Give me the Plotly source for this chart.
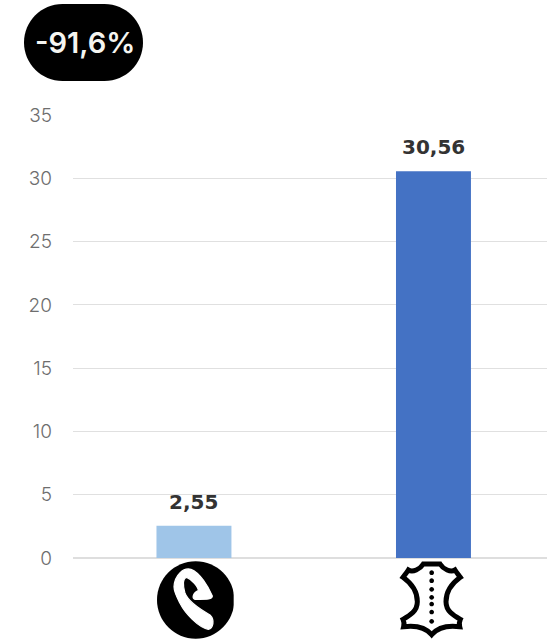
import plotly.graph_objects as go

W, H = 547, 639
categories = ["a", "b"]
values = [2.55, 30.56]
value_labels = ["2,55", "30,56"]
bar_colors = ["#9fc5e8", "#4472c4"]
y_ticks = [0, 5, 10, 15, 20, 25, 30, 35]
badge_text = "-91,6%"


def px(x):
    return x / W


def py(y):
    return 1 - y / H


def zoom_pt(zx, zy):
    """Icon outline points, given in the 3x crop of the region starting at (130,540)."""
    return f"{px(130 + zx / 3):.5f},{py(540 + zy / 3):.5f}"


def path(cmds, close=True):
    s = ""
    for c, pts in cmds:
        s += c + " ".join(zoom_pt(*p) for p in pts) + " "
    return s + ("Z" if close else "")


def bez_circle(cx, cy, r):
    k = 0.5523 * r
    return path([
        ("M", [(cx - r, cy)]),
        ("C", [(cx - r, cy - k), (cx - k, cy - r), (cx, cy - r)]),
        ("C", [(cx + k, cy - r), (cx + r, cy - k), (cx + r, cy)]),
        ("C", [(cx + r, cy + k), (cx + k, cy + r), (cx, cy + r)]),
        ("C", [(cx - k, cy + r), (cx - r, cy + k), (cx - r, cy)]),
    ])


fig = go.Figure(
    go.Bar(
        x=categories,
        y=values,
        marker=dict(color=bar_colors, line=dict(width=0)),
        width=0.313,
        hoverinfo="skip",
    )
)

shapes = []

# badge (pill)
x0, x1, y0, y1, r = 24, 143, 4, 81, 38.5
k = 0.5523 * r
badge = (
    f"M{px(x0 + r)},{py(y0)} L{px(x1 - r)},{py(y0)} "
    f"C{px(x1 - r + k)},{py(y0)} {px(x1)},{py(y0 + r - k)} {px(x1)},{py(y0 + r)} "
    f"C{px(x1)},{py(y1 - r + k)} {px(x1 - r + k)},{py(y1)} {px(x1 - r)},{py(y1)} "
    f"L{px(x0 + r)},{py(y1)} "
    f"C{px(x0 + r - k)},{py(y1)} {px(x0)},{py(y1 - r + k)} {px(x0)},{py(y1 - r)} "
    f"C{px(x0)},{py(y0 + r - k)} {px(x0 + r - k)},{py(y0)} {px(x0 + r)},{py(y0)} Z"
)
shapes.append(dict(type="path", xref="paper", yref="paper", path=badge,
                   fillcolor="#000000", line=dict(width=0), layer="above"))

# handset icon
shapes.append(dict(type="path", xref="paper", yref="paper", path=bez_circle(197, 180, 116),
                   fillcolor="#000000", line=dict(width=0), layer="above"))
shapes.append(dict(type="rect", xref="paper", yref="paper",
                   x0=px(130 + 311 / 3), x1=px(130 + 330 / 3), y0=py(560), y1=py(639),
                   fillcolor="#ffffff", line=dict(width=0), layer="above"))
handset = path([
    ("M", [(132, 140)]),
    ("C", [(134, 105), (160, 82), (183, 88)]),
    ("C", [(210, 98), (235, 140), (247, 168)]),
    ("C", [(247, 178), (235, 178), (195, 178)]),
    ("C", [(185, 175), (188, 160), (205, 152)]),
    ("C", [(205, 140), (185, 118), (170, 112)]),
    ("C", [(158, 115), (158, 135), (165, 160)]),
    ("C", [(175, 185), (205, 205), (240, 225)]),
    ("C", [(255, 240), (250, 265), (235, 268)]),
    ("C", [(205, 262), (165, 220), (150, 190)]),
    ("C", [(140, 170), (132, 155), (132, 140)]),
])
shapes.append(dict(type="path", xref="paper", yref="paper", path=handset,
                   fillcolor="#ffffff", line=dict(color="#ffffff", width=1.2), layer="above"))

# hide icon outline
cx = 905


def m(p):
    return (2 * cx - p[0], p[1])


left = [
    ((870, 88), (848, 98), (835, 90)),
    ((830, 98), (825, 104), (819, 112)),
    ((840, 127), (862, 150), (862, 185)),
    ((862, 213), (840, 226), (819, 238)),
    ((823, 247), (823, 252), (821, 260)),
    ((852, 256), (885, 260), (905, 284)),
]
start = (880, 72)
cmds = [("M", [start])]
for seg in left:
    cmds.append(("C", list(seg)))
pts = [start]
for seg in left:
    pts.extend(seg)
mir = [m(p) for p in reversed(pts)]
for i in range(1, len(mir), 3):
    cmds.append(("C", mir[i:i + 3]))
shapes.append(dict(type="path", xref="paper", yref="paper", path=path(cmds),
                   fillcolor="#ffffff", line=dict(color="#000000", width=5), layer="above"))
for dy in [98, 122, 148, 172, 192, 216, 244]:
    shapes.append(dict(type="path", xref="paper", yref="paper",
                       path=bez_circle(cx, dy, 7), fillcolor="#000000",
                       line=dict(width=0), layer="above"))

annotations = [
    dict(x=c, y=v, text=f"<b>{t}</b>", xref="x", yref="y", showarrow=False,
         yanchor="bottom", yshift=10,
         font=dict(family="DejaVu Sans", size=20, color="#333333"))
    for c, v, t in zip(categories, values, value_labels)
]
annotations.append(dict(
    x=px(84.5), y=py(43), xref="paper", yref="paper", text=badge_text, showarrow=False,
    xanchor="center", yanchor="middle",
    font=dict(family="Inter", size=29, weight=600, color="#f5f5f0"),
))

fig.update_layout(
    width=W, height=H,
    margin=dict(l=0, r=0, t=0, b=0, autoexpand=False),
    paper_bgcolor="#ffffff", plot_bgcolor="#ffffff",
    showlegend=False,
    shapes=shapes,
    annotations=annotations,
    xaxis=dict(domain=[73 / W, 1], type="category", range=[-0.505, 1.474], automargin=False,
               showticklabels=False, showgrid=False, zeroline=False, ticks=""),
    yaxis=dict(domain=[1 - 558 / H, 1 - 115 / H], range=[0, 35], automargin=False,
               tickvals=y_ticks, ticktext=[str(t) for t in y_ticks],
               tickfont=dict(family="Inter", size=19, weight=300, color="#6e6e6e"),
               ticklabelstandoff=20, ticks="",
               showgrid=True, gridcolor="#e0e0e0", gridwidth=1,
               zeroline=True, zerolinecolor="#dedede", zerolinewidth=2, showline=False),
)

fig.write_html("out.html", config=dict(displayModeBar=False),
               post_script="document.body.style.margin='0';document.body.style.overflow='hidden';")
